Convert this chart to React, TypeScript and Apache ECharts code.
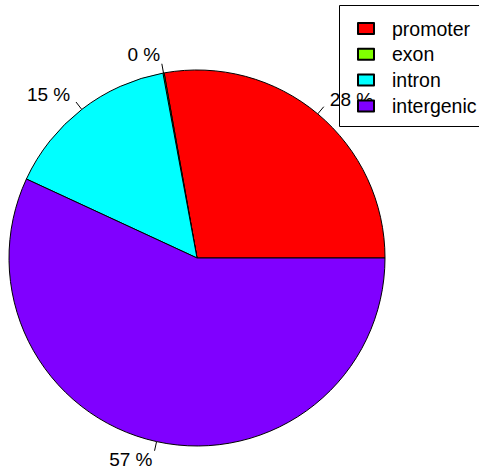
import React, { useEffect, useRef } from 'react';
import * as echarts from 'echarts';

const categories = ['promoter', 'exon', 'intron', 'intergenic'];
const values = [27.8, 0.1, 15.2, 56.9];
const colors = ['#FF0000', '#80FF00', '#00FFFF', '#8000FF'];

export default function App() {
  const ref = useRef<HTMLDivElement>(null);
  useEffect(() => {
    const chart = echarts.init(ref.current!, null, { renderer: 'svg' });
    const font = "'Liberation Sans', Arial, Helvetica, sans-serif";
    const total = values.reduce((a, b) => a + b, 0);
    chart.setOption({
      animation: false,
      backgroundColor: '#fff',
      graphic: [
        {
          type: 'rect',
          shape: { x: 339.5, y: 5.5, width: 200, height: 121 },
          style: { fill: 'none', stroke: '#000', lineWidth: 1 },
          z: 8,
          silent: true,
        },
      ],
      legend: {
        orient: 'vertical',
        left: 339,
        top: 5,
        padding: [13.5, 5, 16, 18],
        icon: 'rect',
        itemWidth: 16,
        itemHeight: 11,
        itemGap: 5.8,
        borderWidth: 0,
        selectedMode: false,
        textStyle: { fontFamily: font, fontSize: 19.5, color: '#000', lineHeight: 19, padding: [0, 0, 0, 13] },
        data: categories,
        z: 10,
      },
      series: [
        {
          type: 'pie',
          center: [197, 258],
          radius: 188,
          startAngle: 0,
          clockwise: false,
          avoidLabelOverlap: false,
          itemStyle: { borderColor: '#000', borderWidth: 1 },
          label: {
            show: true,
            position: 'outside',
            fontFamily: font,
            fontSize: 19,
            color: '#000',
            formatter: (p: any) => Math.round((p.value / total) * 100) + ' %',
          },
          labelLine: { show: true, length: 9.4, length2: 0, lineStyle: { color: '#000', width: 1 } },
          labelLayout: (params: any) => {
            const pts = params.labelLinePoints;
            if (!pts) return {};
            const p0 = pts[0];
            const p1 = pts[1];
            return {
              x: 2 * p1[0] - p0[0],
              y: 2 * p1[1] - p0[1],
              align: p1[0] >= p0[0] ? 'left' : 'right',
              verticalAlign: 'middle',
              labelLinePoints: pts,
            };
          },
          emphasis: { disabled: true },
          data: categories.map((name, i) => ({ name, value: values[i], itemStyle: { color: colors[i] } })),
        },
      ],
    });
    return () => chart.dispose();
  }, []);
  return <div ref={ref} style={{ position: 'fixed', left: 0, top: 0, width: 479, height: 474 }} />;
}
